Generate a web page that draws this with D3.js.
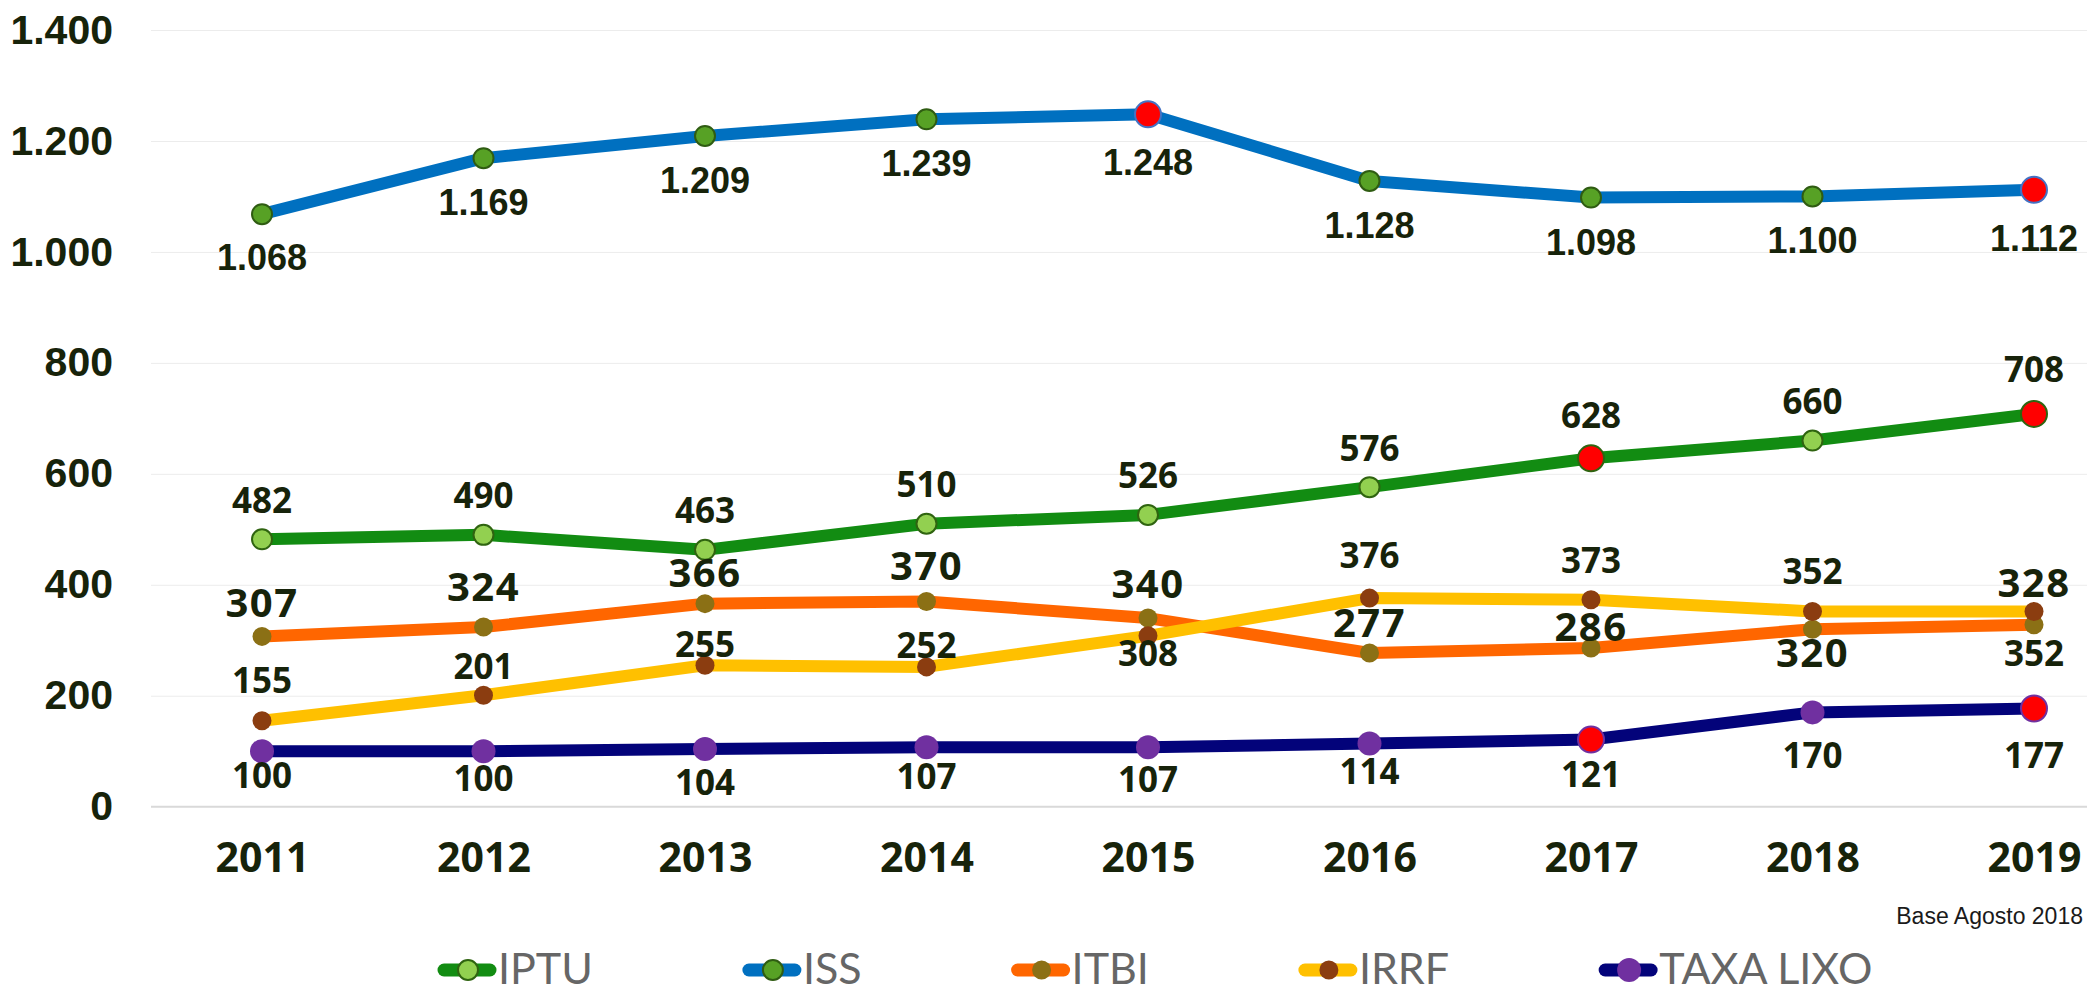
<!DOCTYPE html>
<html>
<head>
<meta charset="utf-8">
<script src="https://cdn.jsdelivr.net/npm/d3@7"></script>
<style>
  body { margin: 0; background: #fff; }
  svg { display: block; }
</style>
</head>
<body>
<div id="chart"></div>
<script>
const years = ['2011', '2012', '2013', '2014', '2015', '2016', '2017', '2018', '2019'];
const iptu = [482, 490, 463, 510, 526, 576, 628, 660, 708];
const iss = [1068, 1169, 1209, 1239, 1248, 1128, 1098, 1100, 1112];
const itbi = [307, 324, 366, 370, 340, 277, 286, 320, 328];
const irrf = [155, 201, 255, 252, 308, 376, 373, 352, 352];
const taxaLixo = [100, 100, 104, 107, 107, 114, 121, 170, 177];
const yTicks = [0, 200, 400, 600, 800, 1000, 1200, 1400];

// years whose marker is drawn in red
const iptuRed = ['2017', '2019'];
const issRed = ['2015', '2019'];
const taxaRed = ['2017', '2019'];

// label nudges (px from the point, negative = above), placed by hand like in the original
const iptuLabelDy = [-39, -39, -39, -39, -39, -39, -43, -39, -45];
const issLabelDy = [43, 44, 44, 44, 48, 44, 44, 44, 48];
const itbiLabelDy = [-34, -40, -31, -36, -34, -30, -21, 23, -42];
const irrfLabelDy = [-40, -29, -21, -21, 18, -43, -39, -40, 42];
const taxaLabelDy = [24, 27, 33, 29, 32, 28, 35, 43, 47];

const width = 2087;
const height = 993;
const textDark = '#17230a';

const series = [
  { name: 'IPTU', values: iptu, red: iptuRed, dy: iptuLabelDy, line: '#128c12', dot: '#92d050', dotStroke: '#2f6410', r: 10,
    redStroke: '#2f6410', font: 'Open Sans', size: 35, spacing: 0 },
  { name: 'ISS', values: iss, red: issRed, dy: issLabelDy, line: '#0070c0', dot: '#57a125', dotStroke: '#2f5c12', r: 10,
    redStroke: '#4472c4', font: 'Liberation Sans', size: 36, spacing: 0 },
  { name: 'ITBI', values: itbi, red: [], dy: itbiLabelDy, line: '#ff6600', dot: '#8b7015', dotStroke: null, r: 9.5,
    redStroke: null, font: 'Open Sans', size: 40, spacing: 1.5 },
  { name: 'IRRF', values: irrf, red: [], dy: irrfLabelDy, line: '#ffc000', dot: '#8b3d10', dotStroke: null, r: 9.5,
    redStroke: null, font: 'Open Sans', size: 35, spacing: 0 },
  { name: 'TAXA LIXO', values: taxaLixo, red: taxaRed, dy: taxaLabelDy, line: '#03037a', dot: '#7030a0', dotStroke: null, r: 12,
    redStroke: '#7030a0', font: 'Open Sans', size: 35, spacing: 0 }
];

const svg = d3.select('#chart')
  .append('svg')
  .attr('width', width)
  .attr('height', height);

const plotLeft = 151;

const x = d3.scalePoint()
  .domain(years)
  .range([262, 2034]);

const y = d3.scaleLinear()
  .domain([0, 1400])
  .range([806.7, 30]);

const br = d3.formatLocale({ decimal: ',', thousands: '.', grouping: [3], currency: ['R$', ''] });
const fmt = br.format(',');

// gridlines
svg.append('g')
  .attr('transform', `translate(${plotLeft},0)`)
  .call(d3.axisLeft(y).tickValues(yTicks.filter(d => d > 0)).tickSize(-(width - plotLeft)).tickFormat(''))
  .call(g => g.select('.domain').remove())
  .call(g => g.selectAll('line').attr('stroke', '#ececec').attr('stroke-width', 1));

// baseline
svg.append('line')
  .attr('x1', plotLeft)
  .attr('x2', width)
  .attr('y1', y(0))
  .attr('y2', y(0))
  .attr('stroke', '#d9d9d9')
  .attr('stroke-width', 2);

// y axis labels
svg.append('g')
  .attr('transform', `translate(${plotLeft},0)`)
  .call(d3.axisLeft(y).tickValues(yTicks).tickSize(0).tickPadding(38).tickFormat(fmt))
  .call(g => g.select('.domain').remove())
  .call(g => g.selectAll('text')
    .attr('fill', textDark)
    .style('font-family', '"Liberation Sans", Arial, sans-serif')
    .style('font-weight', 'bold')
    .style('font-size', '41px'));

// x axis labels
svg.append('g')
  .attr('transform', `translate(0,${y(0)})`)
  .call(d3.axisBottom(x).tickSize(0).tickPadding(36))
  .call(g => g.select('.domain').remove())
  .call(g => g.selectAll('text')
    .attr('fill', textDark)
    .style('font-family', '"Open Sans", sans-serif')
    .style('font-weight', 'bold')
    .style('font-size', '41px'));

const line = d3.line()
  .x((d, i) => x(years[i]))
  .y(d => y(d));

// lines
svg.append('g')
  .selectAll('path')
  .data(series)
  .enter().append('path')
  .attr('d', s => line(s.values))
  .attr('fill', 'none')
  .attr('stroke', s => s.line)
  .attr('stroke-width', 12)
  .attr('stroke-linejoin', 'round');

// markers
series.forEach(s => {
  svg.append('g')
    .selectAll('circle')
    .data(s.values.map((v, i) => ({ v, year: years[i], red: s.red.includes(years[i]) })))
    .enter().append('circle')
    .attr('cx', d => x(d.year))
    .attr('cy', d => y(d.v))
    .attr('r', d => d.red ? 13 : s.r)
    .attr('fill', d => d.red ? '#ff0000' : s.dot)
    .attr('stroke', d => d.red ? s.redStroke : s.dotStroke)
    .attr('stroke-width', d => (d.red ? s.redStroke : s.dotStroke) ? 2 : 0);
});

// data labels
series.forEach(s => {
  svg.append('g')
    .selectAll('text')
    .data(s.values.map((v, i) => ({ v, year: years[i], dy: s.dy[i] })))
    .enter().append('text')
    .attr('x', d => x(d.year))
    .attr('y', d => y(d.v) + d.dy)
    .attr('dy', '0.36em')
    .attr('text-anchor', 'middle')
    .attr('fill', textDark)
    .style('font-family', `"${s.font}", sans-serif`)
    .style('font-weight', 'bold')
    .style('font-size', s.size + 'px')
    .style('letter-spacing', s.spacing + 'px')
    .text(d => fmt(d.v));
});

// source note
svg.append('text')
  .attr('x', 2083)
  .attr('y', 924)
  .attr('text-anchor', 'end')
  .attr('fill', '#1a1a1a')
  .style('font-family', '"Liberation Sans", Arial, sans-serif')
  .style('font-size', '23px')
  .text('Base Agosto 2018');

// legend
const legend = svg.append('g')
  .attr('transform', 'translate(438, 970)');

let lx = 0;
series.forEach(s => {
  const item = legend.append('g').attr('transform', `translate(${lx},0)`);
  item.append('line')
    .attr('x1', 6).attr('x2', 52)
    .attr('y1', 0).attr('y2', 0)
    .attr('stroke', s.line)
    .attr('stroke-width', 13)
    .attr('stroke-linecap', 'round');
  item.append('circle')
    .attr('cx', 30)
    .attr('cy', 0)
    .attr('r', s.r)
    .attr('fill', s.dot)
    .attr('stroke', s.dotStroke)
    .attr('stroke-width', s.dotStroke ? 2 : 0);
  const t = item.append('text')
    .attr('x', 60)
    .attr('y', 14)
    .attr('fill', '#666666')
    .style('font-family', 'Lato, sans-serif')
    .style('font-size', '43px')
    .text(s.name);
  lx += 60 + t.node().getComputedTextLength() + 150;
});
</script>
</body>
</html>
